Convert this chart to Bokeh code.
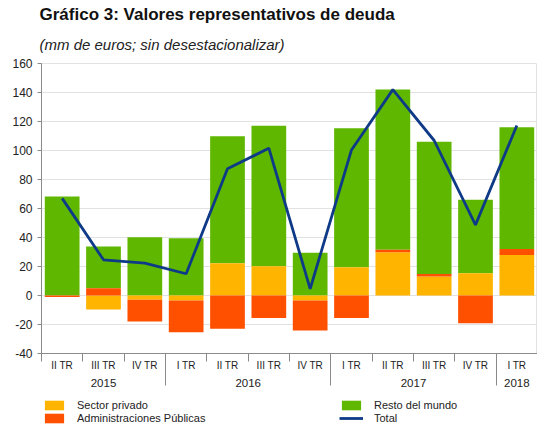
import numpy as np
from bokeh.plotting import figure
from bokeh.layouts import column
from bokeh.models import Range1d, LinearAxis, FixedTicker, Title, Legend, LegendItem
from bokeh.embed import file_html
from bokeh.resources import INLINE

# ---- data ----
quarters = ["II TR", "III TR", "IV TR", "I TR", "II TR", "III TR", "IV TR",
            "I TR", "II TR", "III TR", "IV TR", "I TR"]
years = ["2015", "2016", "2017", "2018"]
year_counts = [3, 4, 4, 1]
y_ticks = [-40, -20, 0, 20, 40, 60, 80, 100, 120, 140, 160]
sector_privado = [0.0, -9.7, -3.0, -3.4, 22.3, 20.2, -3.4, 19.5, 29.9, 13.1, 15.4, 28.0]
administraciones = [-1.0, 5.0, -15.0, -21.9, -23.0, -15.6, -20.7, -15.6, 1.6, 1.8, -19.1, 4.1]
resto_mundo = [68.3, 28.8, 40.2, 39.5, 87.6, 96.8, 29.4, 95.9, 110.5, 91.1, 50.6, 83.9]
total = [67.0, 24.6, 22.3, 15.0, 87.4, 101.6, 4.6, 100.4, 142.0, 106.9, 48.7, 117.2]

FONT = "Liberation Sans"
C_PRIV = "#ffb400"
C_ADM = "#ff5000"
C_RES = "#5fb700"
C_TOT = "#0e3a87"

n = len(quarters)
xc = np.arange(n) + 0.5

# stacking: positive parts up from 0, negative parts down from 0
pos_base = np.zeros(n)
neg_base = np.zeros(n)
stacks = {}
for name, vals in [("priv", sector_privado), ("adm", administraciones), ("res", resto_mundo)]:
    v = np.array(vals, dtype=float)
    bottom = np.where(v >= 0, pos_base, neg_base + v)
    top = np.where(v >= 0, pos_base + v, neg_base)
    pos_base = pos_base + np.where(v >= 0, v, 0)
    neg_base = neg_base + np.where(v < 0, v, 0)
    stacks[name] = (bottom, top)

p = figure(width=537, height=397, output_backend="svg", toolbar_location=None,
           x_range=Range1d(0, n), y_range=Range1d(-40, 160),
           x_axis_type=None, min_border_left=41, min_border_right=0,
           min_border_top=63, min_border_bottom=44)

p.outline_line_color = "#e2e2e2"
p.background_fill_color = "white"
p.border_fill_color = "white"

# y axis
p.yaxis.ticker = FixedTicker(ticks=y_ticks)
p.yaxis.major_label_overrides = {t: str(t) for t in y_ticks}
p.yaxis.axis_line_color = "#8a8a8a"
p.yaxis.major_tick_line_color = "#8a8a8a"
p.yaxis.major_tick_in = 0
p.yaxis.major_tick_out = 4
p.yaxis.minor_tick_line_color = None
p.yaxis.major_label_text_font = FONT
p.yaxis.major_label_text_font_size = "12px"
p.yaxis.major_label_text_color = "#222222"
p.yaxis.major_label_standoff = 5
p.ygrid.grid_line_color = "#e2e2e2"
p.xgrid.grid_line_color = None

# x axis: quarters
bounds = list(range(0, n + 1))
ax1 = LinearAxis(ticker=FixedTicker(ticks=list(xc), minor_ticks=bounds),
                 major_label_overrides={float(x): q for x, q in zip(xc, quarters)})
ax1.axis_line_color = "#8a8a8a"
ax1.major_tick_line_color = None
ax1.major_tick_in = 0
ax1.major_tick_out = 0
ax1.minor_tick_line_color = "#8a8a8a"
ax1.minor_tick_in = 0
ax1.minor_tick_out = 8
ax1.major_label_text_font = FONT
ax1.major_label_text_font_size = "10px"
ax1.major_label_text_color = "#222222"
ax1.major_label_standoff = -2
p.add_layout(ax1, "below")

# x axis: years
cum = np.cumsum([0] + year_counts)
year_c = [(cum[i] + cum[i + 1]) / 2 for i in range(len(years))]
ax2 = LinearAxis(ticker=FixedTicker(ticks=year_c, minor_ticks=[float(c) for c in cum[1:-1]]),
                 major_label_overrides={float(x): y for x, y in zip(year_c, years)})
ax2.axis_line_color = None
ax2.major_tick_line_color = None
ax2.major_tick_in = 0
ax2.major_tick_out = 0
ax2.minor_tick_line_color = "#8a8a8a"
ax2.minor_tick_in = 18
ax2.minor_tick_out = 12
ax2.major_label_text_font = FONT
ax2.major_label_text_font_size = "11.5px"
ax2.major_label_text_color = "#222222"
ax2.major_label_standoff = -7
p.add_layout(ax2, "below")

# bars
w = 0.84
r_res = p.vbar(x=xc, width=w, bottom=stacks["res"][0], top=stacks["res"][1],
               fill_color=C_RES, line_color=None)
r_priv = p.vbar(x=xc, width=w, bottom=stacks["priv"][0], top=stacks["priv"][1],
                fill_color=C_PRIV, line_color=None)
r_adm = p.vbar(x=xc, width=w, bottom=stacks["adm"][0], top=stacks["adm"][1],
               fill_color=C_ADM, line_color=None)
r_tot = p.line(x=xc, y=total, line_color=C_TOT, line_width=2.8)

# titles
sub = Title(text="(mm de euros; sin desestacionalizar)", align="left", offset=-2,
            text_font=FONT, text_font_size="15px", text_font_style="italic",
            text_color="#222222", standoff=21)
main = Title(text="Gráfico 3: Valores representativos de deuda", align="left", offset=-2,
             text_font=FONT, text_font_size="17px", text_font_style="bold",
             text_color="#111111", standoff=0)
p.add_layout(sub, "above")
p.add_layout(main, "above")

# legend strip: a small figure holding only the legend keys
# (same series, but its ranges keep the marks out of view)
lf = figure(width=537, height=30, output_backend="svg", toolbar_location=None,
            x_range=Range1d(100, 101), y_range=Range1d(1000, 1001),
            x_axis_type=None, y_axis_type=None,
            min_border_left=0, min_border_right=0, min_border_top=0, min_border_bottom=0)
lf.outline_line_color = None
lf.xgrid.grid_line_color = None
lf.ygrid.grid_line_color = None
k_priv = lf.vbar(x=xc, width=w, bottom=stacks["priv"][0], top=stacks["priv"][1],
                 fill_color=C_PRIV, line_color=None)
k_adm = lf.vbar(x=xc, width=w, bottom=stacks["adm"][0], top=stacks["adm"][1],
                fill_color=C_ADM, line_color=None)
k_res = lf.vbar(x=xc, width=w, bottom=stacks["res"][0], top=stacks["res"][1],
                fill_color=C_RES, line_color=None)
k_tot = lf.line(x=xc, y=total, line_color=C_TOT, line_width=2.8)

legend = Legend(items=[LegendItem(label="Sector privado", renderers=[k_priv]),
                       LegendItem(label="Administraciones Públicas", renderers=[k_adm]),
                       LegendItem(label="Resto del mundo", renderers=[k_res]),
                       LegendItem(label="Total", renderers=[k_tot])],
                orientation="vertical", nrows=2, location=(1, 3))
legend.background_fill_alpha = 0
legend.border_line_color = None
legend.glyph_width = 24
legend.glyph_height = 12
legend.label_height = 12
legend.label_width = 261
legend.label_standoff = 11
legend.spacing = 1
legend.padding = 0
legend.margin = 0
legend.label_text_font = FONT
legend.label_text_font_size = "11px"
legend.label_text_color = "#222222"
lf.add_layout(legend, "center")

layout = column(p, lf, spacing=0)
open("out.html", "w").write(file_html(layout, INLINE))
